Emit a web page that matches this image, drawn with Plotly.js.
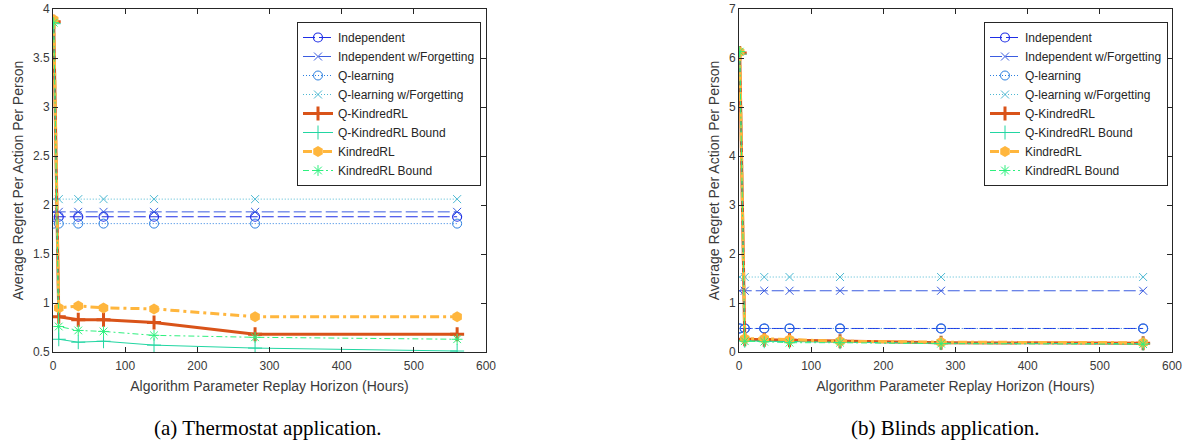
<!DOCTYPE html>
<html>
<head>
<meta charset="utf-8">
<script src="https://cdn.plot.ly/plotly-3.0.1.min.js"></script>
<style>
  html, body { margin: 0; padding: 0; background: #ffffff; }
  #chart { width: 1190px; height: 442px; }
</style>
</head>
<body>
<div id="chart"></div>
<script>
// Replay horizon (hours) at which each algorithm was evaluated
const horizonHours = [1, 8, 35, 70, 140, 280, 560];

// Thermostat application: average regret per action per person
const thermoIndependent        = [1.88, 1.88, 1.88, 1.88, 1.88, 1.88, 1.88];
const thermoIndependentForget  = [1.93, 1.93, 1.93, 1.93, 1.93, 1.93, 1.93];
const thermoQLearning          = [1.81, 1.81, 1.81, 1.81, 1.81, 1.81, 1.81];
const thermoQLearningForget    = [2.06, 2.06, 2.06, 2.06, 2.06, 2.06, 2.06];
const thermoQKindred           = [3.87, 0.86, 0.83, 0.83, 0.80, 0.68, 0.68];
const thermoQKindredBound      = [3.85, 0.63, 0.60, 0.61, 0.57, 0.54, 0.51];
const thermoKindred            = [3.89, 0.95, 0.97, 0.95, 0.94, 0.86, 0.86];
const thermoKindredBound       = [3.86, 0.76, 0.72, 0.71, 0.67, 0.65, 0.63];

// Blinds application: average regret per action per person
const blindsIndependent        = [0.48, 0.48, 0.48, 0.48, 0.48, 0.48, 0.48];
const blindsIndependentForget  = [1.25, 1.25, 1.25, 1.25, 1.25, 1.25, 1.25];
const blindsQLearning          = [0.48, 0.48, 0.48, 0.48, 0.48, 0.48, 0.48];
const blindsQLearningForget    = [1.53, 1.53, 1.53, 1.53, 1.53, 1.53, 1.53];
const blindsQKindred           = [6.10, 0.26, 0.25, 0.24, 0.22, 0.19, 0.18];
const blindsQKindredBound      = [6.08, 0.23, 0.22, 0.21, 0.20, 0.18, 0.17];
const blindsKindred            = [6.12, 0.27, 0.27, 0.25, 0.22, 0.20, 0.19];
const blindsKindredBound       = [6.13, 0.22, 0.21, 0.19, 0.19, 0.17, 0.16];

const seriesNames = [
  'Independent', 'Independent w/Forgetting', 'Q-learning', 'Q-learning w/Forgetting',
  'Q-KindredRL', 'Q-KindredRL Bound', 'KindredRL', 'KindredRL Bound'
];

// Line / marker style per algorithm
const styles = [
  { color: '#1f2ee6', dash: '12px,4px', width: 1, symbol: 'circle-open',      size: 9,  mlw: 1.2 },
  { color: '#3b5ce0', dash: '12px,4px', width: 1, symbol: 'x-thin-open',      size: 8,  mlw: 1 },
  { color: '#2b7fe0', dash: '1px,2px',  width: 1, symbol: 'circle-open',      size: 9,  mlw: 1 },
  { color: '#4cb8d2', dash: '1px,2px',  width: 1, symbol: 'x-thin-open',      size: 8,  mlw: 1 },
  { color: '#d95319', dash: 'solid',    width: 3, symbol: 'cross-thin-open',  size: 10, mlw: 3 },
  { color: '#22d6a2', dash: 'solid',    width: 1, symbol: 'cross-thin-open',  size: 10, mlw: 1 },
  { color: '#ffb63d', dash: '9px,4px,3px,4px', width: 3, symbol: 'hexagon',   size: 11, mlw: 0 },
  { color: '#2ef07e', dash: '6px,3px,2px,3px', width: 1, symbol: 'asterisk-open', size: 9, mlw: 1 }
];

const thermoSeries = [thermoIndependent, thermoIndependentForget, thermoQLearning, thermoQLearningForget,
                      thermoQKindred, thermoQKindredBound, thermoKindred, thermoKindredBound];
const blindsSeries = [blindsIndependent, blindsIndependentForget, blindsQLearning, blindsQLearningForget,
                      blindsQKindred, blindsQKindredBound, blindsKindred, blindsKindredBound];

function makeTraces(series, xaxis, yaxis, legendId) {
  return series.map((vals, i) => {
    const s = styles[i];
    return {
      type: 'scatter',
      mode: 'lines+markers',
      name: seriesNames[i],
      x: horizonHours,
      y: vals,
      xaxis: xaxis,
      yaxis: yaxis,
      legend: legendId,
      line: { color: s.color, width: s.width, dash: s.dash },
      marker: { symbol: s.symbol, size: s.size, color: s.color,
                line: { color: s.color, width: s.mlw } }
    };
  });
}

const traces = makeTraces(thermoSeries, 'x', 'y', 'legend')
  .concat(makeTraces(blindsSeries, 'x2', 'y2', 'legend2'));

const W = 1190, H = 442;
const axisColor = '#262626';
const sans = 'Liberation Sans, Arial, sans-serif';
const tickFont = { family: sans, size: 12, color: '#3a3a3a' };
const titleFont = { family: sans, size: 14, color: '#3a3a3a' };

function xAxis(domain, anchor) {
  return {
    domain: domain, anchor: anchor, range: [0, 600], dtick: 100, tick0: 0,
    showgrid: false, zeroline: false, showline: true, mirror: 'ticks',
    linecolor: axisColor, linewidth: 1, ticks: 'inside', ticklen: 5,
    tickcolor: axisColor, tickfont: tickFont, ticklabelstandoff: 3,
    title: { text: 'Algorithm Parameter Replay Horizon (Hours)', font: titleFont, standoff: 8 }
  };
}
function yAxis(domain, anchor, range, dtick) {
  return {
    domain: domain, anchor: anchor, range: range, dtick: dtick, tick0: 0,
    showgrid: false, zeroline: false, showline: true, mirror: 'ticks',
    linecolor: axisColor, linewidth: 1, ticks: 'inside', ticklen: 5,
    tickcolor: axisColor, tickfont: tickFont,
    title: { text: 'Average Regret Per Action Per Person', font: titleFont, standoff: 6 }
  };
}

const yDomain = [1 - 352 / H, 1 - 9 / H];
const legendStyle = {
  bgcolor: '#ffffff', bordercolor: axisColor, borderwidth: 1,
  font: { family: sans, size: 12, color: '#262626' },
  xanchor: 'left', yanchor: 'top', itemwidth: 30, tracegroupgap: 0
};

const captionFont = { family: 'Liberation Serif, Times New Roman, serif', size: 21, color: '#000000' };

const layout = {
  width: W, height: H,
  margin: { l: 0, r: 0, t: 0, b: 0 },
  paper_bgcolor: '#ffffff', plot_bgcolor: '#ffffff',
  showlegend: true,
  xaxis: xAxis([53 / W, 486 / W], 'y'),
  yaxis: yAxis(yDomain, 'x', [0.5, 4], 0.5),
  xaxis2: xAxis([739 / W, 1172 / W], 'y2'),
  yaxis2: yAxis(yDomain, 'x2', [0, 7], 1),
  legend: Object.assign({ x: 297 / W, y: 1 - 22 / H }, legendStyle),
  legend2: Object.assign({ x: 984 / W, y: 1 - 22 / H }, legendStyle),
  annotations: [
    { text: '(a) Thermostat application.', x: 268 / W, y: 1 - 428 / H, xref: 'paper', yref: 'paper',
      showarrow: false, xanchor: 'center', yanchor: 'middle', font: captionFont },
    { text: '(b) Blinds application.', x: 945 / W, y: 1 - 428 / H, xref: 'paper', yref: 'paper',
      showarrow: false, xanchor: 'center', yanchor: 'middle', font: captionFont }
  ]
};

Plotly.newPlot('chart', traces, layout, { staticPlot: true, displayModeBar: false });
</script>
</body>
</html>
